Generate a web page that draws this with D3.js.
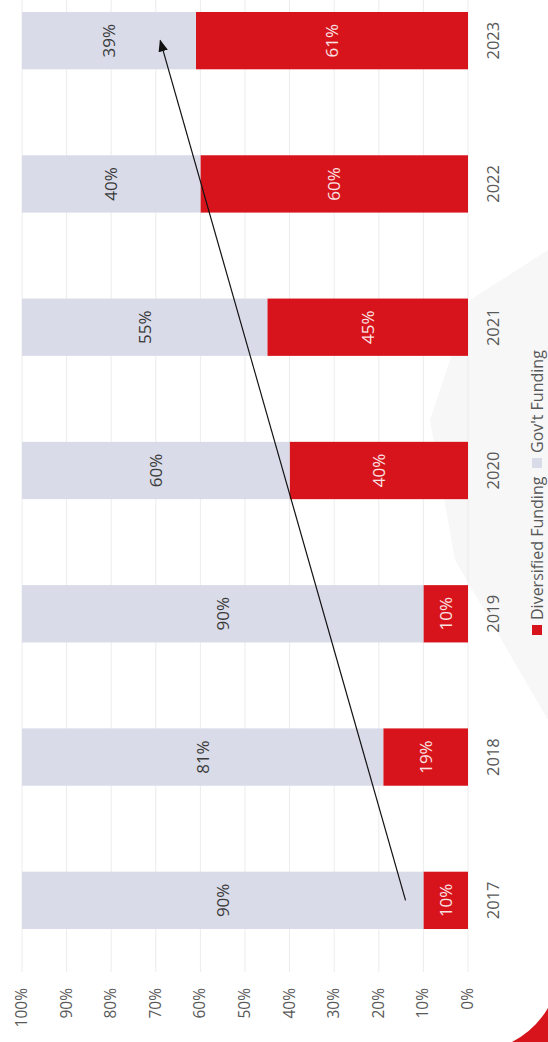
<!DOCTYPE html>
<html>
<head>
<meta charset="utf-8">
<script src="https://cdn.jsdelivr.net/npm/d3@7"></script>
<style>
  body { margin: 0; background: #fff; }
  text { font-family: "Open Sans", "Noto Sans", sans-serif; }
</style>
</head>
<body>
<div id="chart"></div>
<script>
// data
const years = ['2017', '2018', '2019', '2020', '2021', '2022', '2023'];
const diversified = [10, 19, 10, 40, 45, 60, 61];
const govt = [90, 81, 90, 60, 55, 40, 39];
const ticks = [0, 10, 20, 30, 40, 50, 60, 70, 80, 90, 100];
const seriesNames = ['Diversified Funding', "Gov't Funding"];
// trend arrow: from (2017, 14%) to (2023, 69%)
const arrowFrom = ['2017', 14];
const arrowTo = ['2023', 69];

const width = 548, height = 1042;
const red = '#d7141c', grey = '#d9dbe8';

const svg = d3.select('#chart')
      .append('svg')
      .attr('width', width)
      .attr('height', height);

// chart is drawn turned on its side: value runs right to left, years bottom to top
const xScale = d3.scaleLinear()
        .domain([0, 100])
        .range([468, 22]);

const yScale = d3.scaleBand()
        .domain(years)
        .range([972, -31])
        .paddingInner(0.6)
        .paddingOuter(0.3);

// faint scan shading
svg.append('path')
   .attr('d', 'M548,250 L470,300 L430,420 L455,560 L548,720 Z')
   .attr('fill', '#f7f7f7');
svg.append('path')
   .attr('d', 'M512,1042 Q535,1030 548,1008 L548,1042 Z')
   .attr('fill', red);

// gridlines
svg.append('g')
   .selectAll('line')
   .data(ticks)
   .enter()
   .append('line')
   .attr('x1', d => xScale(d))
   .attr('x2', d => xScale(d))
   .attr('y1', 0)
   .attr('y2', 972)
   .attr('stroke', '#ececec')
   .attr('stroke-width', 1);

// tick labels
svg.append('g')
   .selectAll('text')
   .data(ticks)
   .enter()
   .append('text')
   .attr('transform', d => 'translate(' + (xScale(d) + 5) + ',988) rotate(-90)')
   .attr('text-anchor', 'end')
   .attr('font-size', 15.5)
   .attr('fill', '#595959')
   .text(d => d + '%');

const rows = years.map((y, i) => ({year: y, div: diversified[i], gov: govt[i]}));

// red part (bottom of stack, nearest the 0% side)
svg.selectAll('.div')
   .data(rows)
   .enter()
   .append('rect')
   .attr('class', 'div')
   .attr('x', d => xScale(d.div))
   .attr('y', d => yScale(d.year))
   .attr('width', d => xScale(0) - xScale(d.div))
   .attr('height', yScale.bandwidth())
   .attr('fill', red);

// grey part stacked on top
svg.selectAll('.gov')
   .data(rows)
   .enter()
   .append('rect')
   .attr('class', 'gov')
   .attr('x', d => xScale(d.div + d.gov))
   .attr('y', d => yScale(d.year))
   .attr('width', d => xScale(d.div) - xScale(d.div + d.gov))
   .attr('height', yScale.bandwidth())
   .attr('fill', grey);

// value labels
svg.selectAll('.divLabel')
   .data(rows)
   .enter()
   .append('text')
   .attr('transform', d => 'translate(' + (xScale(d.div / 2) + 6) + ',' + (yScale(d.year) + yScale.bandwidth() / 2) + ') rotate(-90)')
   .attr('text-anchor', 'middle')
   .attr('font-size', 17)
   .attr('fill', '#fbe3e3')
   .text(d => d.div + '%');

svg.selectAll('.govLabel')
   .data(rows)
   .enter()
   .append('text')
   .attr('transform', d => 'translate(' + (xScale(d.div + d.gov / 2) + 6) + ',' + (yScale(d.year) + yScale.bandwidth() / 2) + ') rotate(-90)')
   .attr('text-anchor', 'middle')
   .attr('font-size', 17)
   .attr('fill', '#3a3a3a')
   .text(d => d.gov + '%');

// year labels
svg.selectAll('.year')
   .data(years)
   .enter()
   .append('text')
   .attr('transform', d => 'translate(499,' + (yScale(d) + yScale.bandwidth() / 2) + ') rotate(-90)')
   .attr('text-anchor', 'middle')
   .attr('font-size', 16.5)
   .attr('fill', '#595959')
   .text(d => d);

// arrow
svg.append('defs').append('marker')
   .attr('id', 'head')
   .attr('viewBox', '0 0 10 10')
   .attr('refX', 9).attr('refY', 5)
   .attr('markerWidth', 10).attr('markerHeight', 10)
   .attr('orient', 'auto')
   .append('path')
   .attr('d', 'M0,1 L10,5 L0,9 Z')
   .attr('fill', '#111');

svg.append('line')
   .attr('x1', xScale(arrowFrom[1]))
   .attr('y1', yScale(arrowFrom[0]) + yScale.bandwidth() / 2)
   .attr('x2', xScale(arrowTo[1]))
   .attr('y2', yScale(arrowTo[0]) + yScale.bandwidth() / 2)
   .attr('stroke', '#111')
   .attr('stroke-width', 1.2)
   .attr('marker-end', 'url(#head)');

// legend
const legend = svg.append('g').attr('transform', 'translate(537,0)');
const legendY = [630, 463];
const legendCol = [red, grey];
seriesNames.forEach((name, i) => {
  legend.append('rect')
     .attr('x', -5).attr('y', legendY[i] - 5)
     .attr('width', 10).attr('height', 10)
     .attr('fill', legendCol[i]);
  legend.append('text')
     .attr('transform', 'translate(6,' + (legendY[i] - 10) + ') rotate(-90)')
     .attr('text-anchor', 'start')
     .attr('font-size', 16)
     .attr('fill', '#595959')
     .text(name);
});
</script>
</body>
</html>
